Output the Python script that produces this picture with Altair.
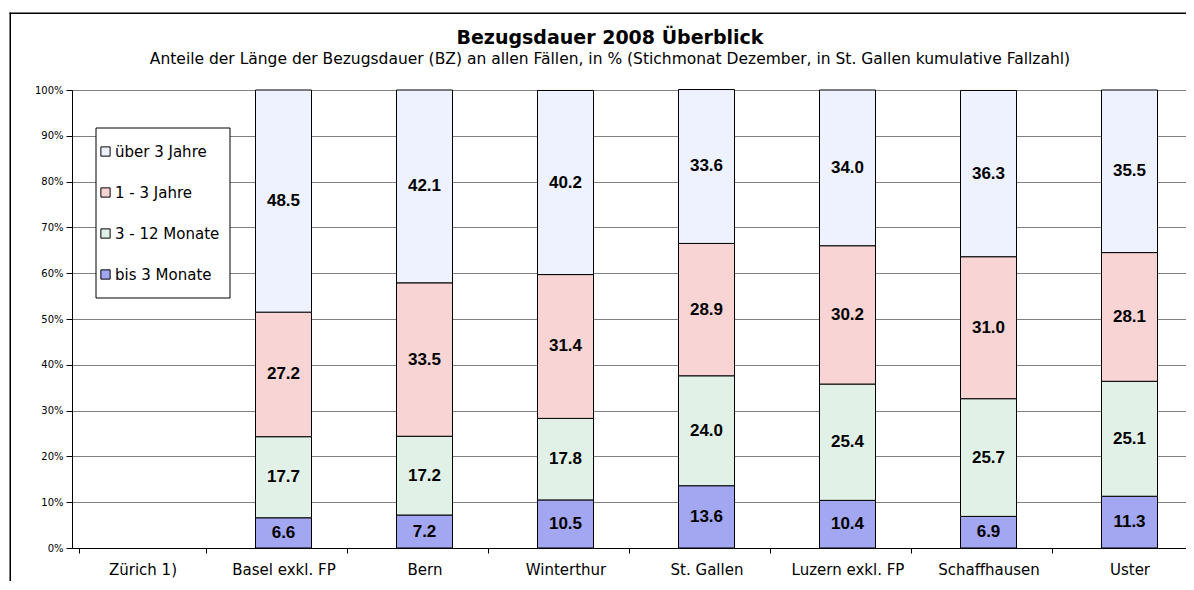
import altair as alt
import pandas as pd

cities = ["Zürich 1)", "Basel exkl. FP", "Bern", "Winterthur", "St. Gallen",
          "Luzern exkl. FP", "Schaffhausen", "Uster"]
bis_3_monate = [None, 6.6, 7.2, 10.5, 13.6, 10.4, 6.9, 11.3]
monate_3_12 = [None, 17.7, 17.2, 17.8, 24.0, 25.4, 25.7, 25.1]
jahre_1_3 = [None, 27.2, 33.5, 31.4, 28.9, 30.2, 31.0, 28.1]
ueber_3_jahre = [None, 48.5, 42.1, 40.2, 33.6, 34.0, 36.3, 35.5]

categories = ["über 3 Jahre", "1 - 3 Jahre", "3 - 12 Monate", "bis 3 Monate"]
series = {"bis 3 Monate": bis_3_monate, "3 - 12 Monate": monate_3_12,
          "1 - 3 Jahre": jahre_1_3, "über 3 Jahre": ueber_3_jahre}
colors = ["#eef2ff", "#f8d4d4", "#e2f1e7", "#a3a6f1"]
y_ticks = [0, 10, 20, 30, 40, 50, 60, 70, 80, 90, 100]

rows = []
for rank, cat in enumerate(["bis 3 Monate", "3 - 12 Monate", "1 - 3 Jahre", "über 3 Jahre"]):
    for city, v in zip(cities, series[cat]):
        if v is not None:
            rows.append({"city": city, "cat": cat, "rank": rank, "value": v,
                         "label": f"{v:.1f}"})
df = pd.DataFrame(rows)

FONT = "DejaVu Sans"
NUMFONT = "Liberation Sans"
W = 1128

base = alt.Chart(df).transform_stack(
    stack="value", groupby=["city"], sort=[alt.SortField("rank", order="ascending")],
    as_=["y0", "y1"]
).transform_calculate(mid="(datum.y0 + datum.y1) / 2")

x_enc = alt.X("city:N", scale=alt.Scale(domain=cities), title=None, sort=cities,
              axis=alt.Axis(labelAngle=0, labelFontSize=15, labelColor="black",
                            labelFont=FONT, tickBand="extent", tickSize=5,
                            tickColor="black", domainColor="black", labelPadding=9,
                            grid=False))

bars = base.mark_bar(size=56, stroke="black", strokeWidth=1).encode(
    x=x_enc,
    y=alt.Y("y0:Q", scale=alt.Scale(domain=[0, 100], nice=False), title=None,
            axis=alt.Axis(values=y_ticks, labelExpr="datum.value + '%'",
                          labelFontSize=10, labelFont=FONT, labelColor="black",
                          tickSize=6, tickColor="black", domainColor="black",
                          gridColor="#808080", gridWidth=1, labelPadding=3)),
    y2="y1:Q",
    color=alt.Color("cat:N", scale=alt.Scale(domain=categories, range=colors),
                    title=None,
                    legend=alt.Legend(orient="none", legendX=26, legendY=54,
                                      padding=0, rowPadding=25, labelFontSize=15,
                                      labelFont=FONT, labelColor="black",
                                      symbolType="square", symbolSize=85,
                                      symbolStrokeColor="black", symbolStrokeWidth=1,
                                      labelOffset=2, labelLimit=200)),
)

texts = base.mark_text(fontWeight="bold", fontSize=17, font=NUMFONT, color="black").encode(
    x=alt.X("city:N", scale=alt.Scale(domain=cities), sort=cities),
    y=alt.Y("mid:Q"),
    text="label:N",
)

one = pd.DataFrame({"a": [0]})
frame_left = alt.Chart(one).mark_rect(fill="black").encode(
    x=alt.value(-62.5), x2=alt.value(-61), y=alt.value(-77.5), y2=alt.value(700))
frame_top = alt.Chart(one).mark_rect(fill="black").encode(
    x=alt.value(-62.5), x2=alt.value(W + 20), y=alt.value(-77.5), y2=alt.value(-76))
legend_box = alt.Chart(one).mark_rect(fill="white", stroke="black", strokeWidth=1).encode(
    x=alt.value(24), x2=alt.value(158), y=alt.value(38), y2=alt.value(208))

chart = alt.layer(frame_left, frame_top, legend_box, bars, texts).properties(
    width=W, height=458,
    title=alt.TitleParams(
        "Bezugsdauer 2008 Überblick",
        subtitle="Anteile der Länge der Bezugsdauer (BZ) an allen Fällen, in % (Stichmonat Dezember, in St. Gallen kumulative Fallzahl)",
        fontSize=19, font=FONT, fontWeight="bold", color="black",
        subtitleFontSize=15.5, subtitleFont=FONT, subtitleColor="black",
        subtitlePadding=4, anchor="middle", dx=-26, offset=-55, frame="group"),
    autosize=alt.AutoSizeParams(type="none"),
    padding={"left": 64, "top": 82, "right": -14, "bottom": 33},
).configure_view(stroke="transparent", strokeWidth=0).configure(background="white")

chart.save("out.html", embed_options={"renderer": "svg", "actions": False})
